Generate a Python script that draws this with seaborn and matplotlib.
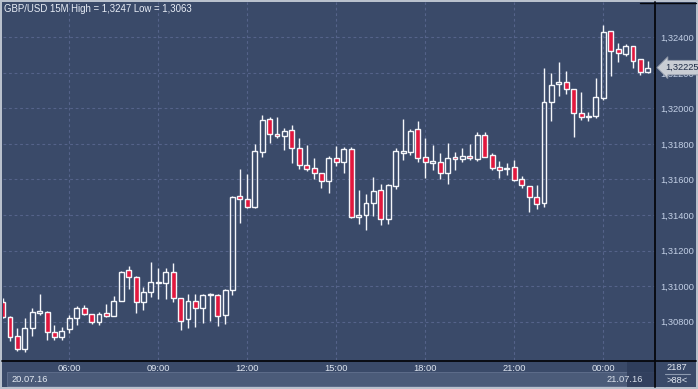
import numpy as np
import pandas as pd
import matplotlib
matplotlib.use("Agg")
import matplotlib.pyplot as plt
import matplotlib.transforms as mtransforms
from matplotlib.patches import Rectangle
from matplotlib.lines import Line2D
from matplotlib.colors import LinearSegmentedColormap
import seaborn as sns

# ---------------- data (GBP/USD 15M, 20.07.16 03:45 -> 21.07.16 01:30) ----------------
opens = [1.30912, 1.30828, 1.30719, 1.30645, 1.30763, 1.30851, 1.30856, 1.30740, 1.30716, 1.30757,
         1.30819, 1.30875, 1.30842, 1.30797, 1.30847, 1.30832, 1.30918, 1.31091, 1.31053, 1.30909,
         1.30969, 1.31025, 1.31016, 1.31081, 1.30932, 1.30813, 1.30918, 1.30875, 1.30951, 1.30950,
         1.30838, 1.30978, 1.31507, 1.31490, 1.31444, 1.31756, 1.31940, 1.31856, 1.31846, 1.31878,
         1.31776, 1.31680, 1.31663, 1.31635, 1.31590, 1.31719, 1.31700, 1.31770, 1.31391, 1.31399,
         1.31470, 1.31541, 1.31376, 1.31566, 1.31751, 1.31756, 1.31882, 1.31725, 1.31695, 1.31700,
         1.31635, 1.31728, 1.31714, 1.31734, 1.31715, 1.31850, 1.31738, 1.31669, 1.31657, 1.31669,
         1.31601, 1.31565, 1.31500, 1.31466, 1.32034, 1.32136, 1.32150, 1.32108, 1.31976, 1.31953,
         1.31959, 1.32060, 1.32437, 1.32332, 1.32306, 1.32351, 1.32276, 1.32206]
highs = [1.30933, 1.30832, 1.30763, 1.30819, 1.30875, 1.30956, 1.30860, 1.30781, 1.30772, 1.30838,
         1.30890, 1.30894, 1.30843, 1.30856, 1.30900, 1.30945, 1.31085, 1.31113, 1.31057, 1.30993,
         1.31138, 1.31100, 1.31100, 1.31129, 1.30933, 1.30954, 1.30954, 1.30954, 1.30963, 1.30953,
         1.30984, 1.31507, 1.31659, 1.31631, 1.31800, 1.31963, 1.31950, 1.31950, 1.31888, 1.31907,
         1.31832, 1.31794, 1.31719, 1.31637, 1.31733, 1.31789, 1.31783, 1.31785, 1.31541, 1.31518,
         1.31612, 1.31575, 1.31575, 1.31777, 1.31940, 1.31884, 1.31929, 1.31832, 1.31794, 1.31747,
         1.31804, 1.31756, 1.31776, 1.31798, 1.31869, 1.31866, 1.31747, 1.31704, 1.31691, 1.31710,
         1.31620, 1.31566, 1.31569, 1.32226, 1.32197, 1.32259, 1.32210, 1.32109, 1.32094, 1.31981,
         1.32169, 1.32469, 1.32438, 1.32366, 1.32361, 1.32354, 1.32278, 1.32268]
lows = [1.30821, 1.30693, 1.30637, 1.30631, 1.30719, 1.30838, 1.30697, 1.30697, 1.30697, 1.30738,
        1.30781, 1.30838, 1.30787, 1.30781, 1.30828, 1.30829, 1.30916, 1.30982, 1.30847, 1.30866,
        1.30937, 1.30926, 1.30926, 1.30912, 1.30753, 1.30763, 1.30768, 1.30794, 1.30806, 1.30777,
        1.30787, 1.30950, 1.31357, 1.31440, 1.31440, 1.31725, 1.31804, 1.31835, 1.31766, 1.31695,
        1.31657, 1.31650, 1.31601, 1.31554, 1.31522, 1.31678, 1.31638, 1.31382, 1.31350, 1.31316,
        1.31395, 1.31344, 1.31350, 1.31545, 1.31710, 1.31738, 1.31700, 1.31607, 1.31653, 1.31603,
        1.31575, 1.31653, 1.31700, 1.31710, 1.31704, 1.31727, 1.31653, 1.31610, 1.31625, 1.31592,
        1.31554, 1.31419, 1.31432, 1.31444, 1.31931, 1.32071, 1.32079, 1.31841, 1.31935, 1.31931,
        1.31948, 1.32047, 1.32182, 1.32263, 1.32297, 1.32226, 1.32188, 1.32197]
closes = [1.30828, 1.30712, 1.30645, 1.30763, 1.30853, 1.30860, 1.30740, 1.30712, 1.30749, 1.30819,
          1.30875, 1.30842, 1.30797, 1.30843, 1.30832, 1.30916, 1.31081, 1.31050, 1.30909, 1.30965,
          1.31025, 1.31016, 1.31081, 1.30932, 1.30806, 1.30918, 1.30875, 1.30950, 1.30954, 1.30832,
          1.30978, 1.31500, 1.31489, 1.31444, 1.31760, 1.31935, 1.31854, 1.31846, 1.31873, 1.31776,
          1.31680, 1.31657, 1.31635, 1.31590, 1.31719, 1.31700, 1.31770, 1.31391, 1.31399, 1.31470,
          1.31534, 1.31376, 1.31569, 1.31759, 1.31760, 1.31875, 1.31719, 1.31697, 1.31704, 1.31635,
          1.31723, 1.31714, 1.31732, 1.31719, 1.31850, 1.31728, 1.31663, 1.31653, 1.31663, 1.31597,
          1.31569, 1.31500, 1.31461, 1.32034, 1.32130, 1.32149, 1.32108, 1.31972, 1.31953, 1.31957,
          1.32062, 1.32432, 1.32325, 1.32310, 1.32351, 1.32268, 1.32206, 1.32225]

start_time = "2016-07-20 03:45"
price_ticks = [1.308, 1.310, 1.312, 1.314, 1.316, 1.318, 1.320, 1.322, 1.324]
title_text = "GBP/USD 15M High = 1,3247 Low = 1,3063"
date_labels = ["20.07.16", "21.07.16"]
counter_top = "2187"
counter_bottom = ">88<"

times = pd.date_range(start_time, periods=len(closes), freq="15min")
df = pd.DataFrame({"time": times, "open": opens, "high": highs, "low": lows, "close": closes})
df["i"] = np.arange(len(df))
df["bull"] = df["close"] >= df["open"]

# ---------------- style ----------------
sns.set_theme(style="dark")
plt.rcParams["font.family"] = ["Liberation Sans", "DejaVu Sans"]

W, H = 698, 389
fig = plt.figure(figsize=(W / 100, H / 100), dpi=100)
fig.patch.set_facecolor("#b9c1cd")

def frac(x0, y0, x1, y1):
    return (x0 / W, 1 - y1 / H, (x1 - x0) / W, (y1 - y0) / H)

def fig_rect(x0, y0, x1, y1, **kw):
    l, b, w, h = frac(x0, y0, x1, y1)
    fig.patches.append(Rectangle((l, b), w, h, transform=fig.transFigure, figure=fig, **kw))

# bottom bar
fig_rect(2, 2, 696, 387, facecolor="#3a4a69", edgecolor="none", zorder=0)

# gradient background for chart + price panel
bg = fig.add_axes(frac(2, 2, 696, 360), zorder=0)
grad = np.linspace(0, 1, 256).reshape(-1, 1)
cmap = LinearSegmentedColormap.from_list("bg", ["#3a4764", "#33405e", "#2c3a59"])
bg.imshow(grad, aspect="auto", cmap=cmap, extent=(0, 1, 0, 1), origin="upper")
bg.set_axis_off()

ax = fig.add_axes(frac(3, 2, 655, 360), zorder=2)
ax.set_facecolor("none")

ax.set_xlim(0.06, 87.97)
ax.set_ylim(1.30584, 1.32599)

# ticks and grid
ax.set_yticks(price_ticks)
ax.set_yticklabels([f"{p:.5f}".replace(".", ",") for p in price_ticks])
tick_mask = (df["time"].dt.minute == 0) & (df["time"].dt.hour % 3 == 0)
ax.set_xticks(df.loc[tick_mask, "i"])
ax.set_xticklabels(df.loc[tick_mask, "time"].dt.strftime("%H:%M"))
ax.grid(True, color="#55638a", linestyle=(0, (2.5, 2.5)), linewidth=0.8, zorder=0)
ax.set_axisbelow(True)
for s in ax.spines.values():
    s.set_visible(False)

ax.yaxis.tick_right()
ax.tick_params(axis="y", length=0, pad=3.5, labelsize=6.7, labelcolor="#c3d0e6")
ax.tick_params(axis="x", length=0, pad=2.6, labelsize=6.7, labelcolor="#dfe6f1")

# candles
wick_color = "#f4f6fa"
bw = 0.66
body_lo = df[["open", "close"]].min(axis=1)
body_hi = df[["open", "close"]].max(axis=1)
ax.vlines(df["i"], body_hi, df["high"], color=wick_color, lw=1.0, zorder=3)
ax.vlines(df["i"], df["low"], body_lo, color=wick_color, lw=1.0, zorder=3)
colors = np.where(df["bull"], "none", "#e2173d")
ax.bar(df["i"], body_hi - body_lo, bottom=body_lo, width=bw, color=colors,
       edgecolor=wick_color, linewidth=1.0, zorder=4)

# separators
fig.add_artist(Line2D([2 / W, 696 / W], [1 - 360.5 / H] * 2, color="#05070c", lw=1.3, transform=fig.transFigure, zorder=5))
fig.add_artist(Line2D([655 / W] * 2, [1 - 2 / H, 1 - 387 / H], color="#05070c", lw=1.3, transform=fig.transFigure, zorder=5))
fig.add_artist(Line2D([640 / W, 696 / W], [1 - 2.5 / H] * 2, color="#05070c", lw=1.0, transform=fig.transFigure, zorder=5))

# title
fig.text(4 / W, 1 - 9 / H, title_text, ha="left", va="center", fontsize=6.9, color="#e9eef7", zorder=6)

# current price marker (covers most of the 1,32200 label, as in the source)
last = df["close"].iloc[-1]
trans = mtransforms.blended_transform_factory(ax.transAxes, ax.transData)
ax.annotate(f"{last:.5f}".replace(".", ","), xy=(1, last), xycoords=trans,
            xytext=(7.2, 0.6), textcoords="offset points", ha="left", va="center",
            fontsize=6.7, color="#1d2a44", annotation_clip=False, zorder=10,
            bbox=dict(boxstyle="larrow,pad=0.3", fc="#c9cdd4", ec="#8e97a8", lw=0.6))

# date strip and scroll thumb
fig_rect(7, 372, 654, 386, facecolor="#4b5b79", edgecolor="#62718e", lw=0.6, zorder=1)
fig_rect(627, 361, 654, 387, facecolor="#2e3c5a", edgecolor="none", alpha=0.85, zorder=2)
fig.text(12 / W, 1 - 379.5 / H, date_labels[0], ha="left", va="center", fontsize=6.7, color="#e3e9f2", zorder=6)
fig.text(607 / W, 1 - 379.5 / H, date_labels[1], ha="left", va="center", fontsize=6.7, color="#d8dfea", zorder=6)

# counter
fig.text(677 / W, 1 - 367.5 / H, counter_top, ha="center", va="center", fontsize=6.7, color="#e3e9f2", zorder=6)
fig.add_artist(Line2D([665 / W, 690 / W], [1 - 373.5 / H] * 2, color="#8d9ab0", lw=0.8, transform=fig.transFigure, zorder=6))
fig.text(677 / W, 1 - 380.5 / H, counter_bottom, ha="center", va="center", fontsize=6.7, color="#e3e9f2", zorder=6)

fig.savefig("out.png", dpi=100, facecolor=fig.get_facecolor())
